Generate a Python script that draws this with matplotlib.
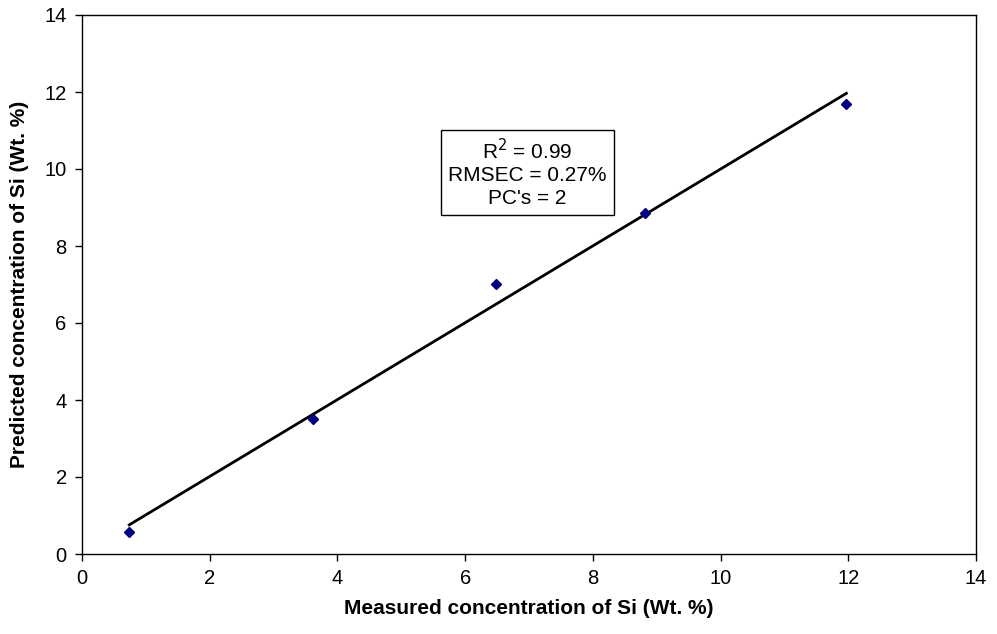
import matplotlib as mpl
mpl.use('Agg')
import matplotlib.pyplot as plt
import numpy as np

plt.rcParams['font.family'] = ['Liberation Sans', 'DejaVu Sans']

measured = [0.74, 3.61, 6.48, 8.82, 11.97]
predicted = [0.58, 3.50, 7.01, 8.86, 11.70]
stats_text = "R$^2$ = 0.99\nRMSEC = 0.27%\nPC's = 2"

fig = plt.figure(figsize=(9.97, 6.34), dpi=100)
ax = fig.add_axes([82/997, 1 - 554/634, (976-82)/997, (554-15)/634])

# least squares trendline through the points
slope, icept = np.polyfit(measured, predicted, 1)
xs = np.array([min(measured), max(measured)])
ax.plot(xs, slope*xs + icept, color='black', lw=2, zorder=2)
ax.plot(measured, predicted, linestyle='none', marker='D', markersize=5.5,
        color='#000080', zorder=3)

ax.set_xlim(0, 14)
ax.set_ylim(0, 14)
ax.set_xticks(range(0, 15, 2))
ax.set_yticks(range(0, 15, 2))
ax.tick_params(direction='out', length=5, width=1, labelsize=14.5, pad=6)
for s in ax.spines.values():
    s.set_linewidth(1)

ax.set_xlabel('Measured concentration of Si (Wt. %)', fontsize=15, fontweight='bold', labelpad=8)
ax.set_ylabel('Predicted concentration of Si (Wt. %)', fontsize=15, fontweight='bold', labelpad=11)

ax.text(6.97, 9.9, stats_text, ha='center', va='center', fontsize=15,
        linespacing=1.25,
        bbox=dict(boxstyle='square,pad=0.35', facecolor='white', edgecolor='black', lw=1))

fig.savefig('out.png', dpi=100)
